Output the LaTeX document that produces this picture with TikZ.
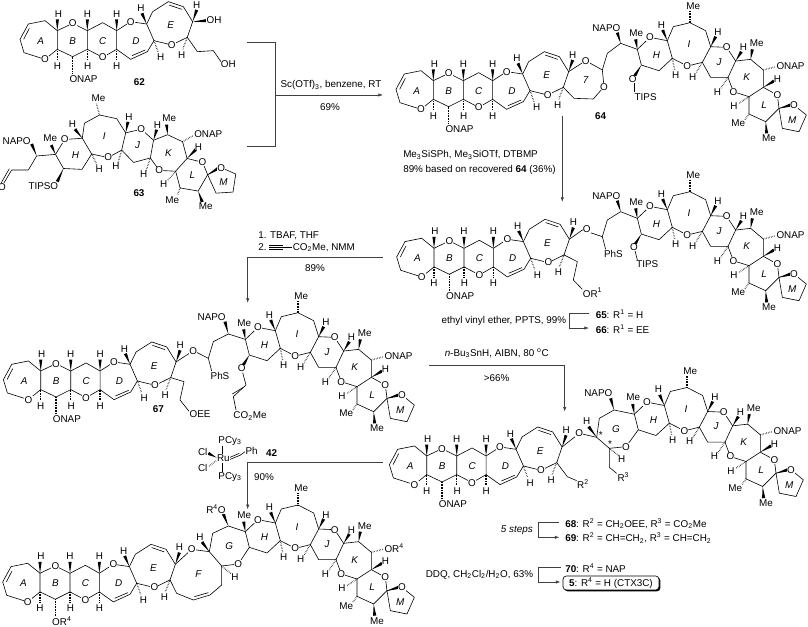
\documentclass[tikz,border=0pt]{standalone}
\usepackage{fontspec}
\setmainfont{Liberation Sans}
\usetikzlibrary{calc,arrows.meta,shadows}

\newcommand{\chemfont}{\fontsize{7.4}{8.5}\selectfont}
\newcommand{\sub}[1]{\textsubscript{#1}}
\newcommand{\supr}[1]{\textsuperscript{#1}}
\newcommand{\wdg}[2]{\fill #1 -- ($#2!1.2pt!90:#1$) -- ($#2!1.2pt!-90:#1$) -- cycle;}

\tikzset{
    zm/.style={x=.25pt,y=-.25pt},
    bnd/.style={line width=.45pt,line join=round},
    hsh/.style={line width=1pt,dash pattern=on .3pt off .9pt},
    atm/.style={font=\chemfont,fill=white,inner sep=.2pt},
    rng/.style={font=\chemfont\itshape,inner sep=0pt},
    txt/.style={font=\chemfont,inner sep=0pt},
    rxn/.style={line width=.5pt,draw=black!75,-{Latex[length=3.5pt,width=2.5pt]}},
    brk/.style={line width=.5pt,draw=black!75}
}

% rings A to E, in the coordinates of 62
\newcommand{\ringsAE}[3]{
  \begin{scope}[shift={(#1,#2)},zm]
    \coordinate (e1) at (578,65);
    \coordinate (e2) at (562,112);
    \draw[bnd] (172,92) -- (135,62) -- (85,72) -- (60,118) -- (72,158) -- (135,178) -- (172,148) -- cycle;
    \draw[bnd] (88,85) -- (71,118);
    \draw[bnd] (172,92) -- (218,70) -- (262,92) -- (262,148) -- (218,170) -- (172,148);
    \draw[bnd] (262,92) -- (308,68) -- (350,92) -- (350,148) -- (308,172) -- (262,148);
    \draw[bnd] (350,92) -- (392,65) -- (440,72) -- (462,122) -- (442,155) -- (392,178) -- (350,148);
    \draw[bnd] (396,167) -- (436,150);
    \draw[bnd] (440,72) -- (458,35) -- (505,5) -- (550,20) -- (578,65) -- (562,112) -- (515,135) -- (462,122);
    \draw[bnd] (507,15) -- (545,28);
    \wdg{(172,92)}{(172,58)} \wdg{(262,92)}{(262,58)} \wdg{(350,92)}{(350,58)}
    \wdg{(440,72)}{(426,40)} \wdg{(e1)}{(590,30)}
    \draw[hsh] (172,148) -- (172,180);
    \draw[hsh] (262,148) -- (262,180);
    \draw[hsh] (350,148) -- (350,180);
    \draw[hsh] (218,170) -- (218,222);
    \draw[hsh] (462,122) -- (474,155);
    \draw[hsh] (e2) -- (548,148);
    \foreach \px/\py in {135/178,218/70,308/172,392/65,515/135}
      \node[atm] at (\px,\py) {O};
    \foreach \px/\py in {175/42,262/42,350/42,423/25,590/15,172/197,263/197,350/197,482/172,545/165}
      \node[atm] at (\px,\py) {H};
    \node[atm,anchor=west] at (207,237) {#3};
    \node[rng] at (122,122) {A};
    \node[rng] at (218,122) {B};
    \node[rng] at (308,122) {C};
    \node[rng] at (408,122) {D};
    \node[rng] at (512,76) {E};
  \end{scope}
}

% rings H to M, in the coordinates of 64, turned about the top of ring I
\newcommand{\ringsHM}[4]{
  \begin{scope}[shift={(#1,#2)},rotate=#3,zm]
  \begin{scope}[shift={(-858,-68)}]
    \coordinate (h1) at (700,148);
    \coordinate (h6) at (712,195);
    \draw[bnd] (h1) -- (738,112) -- (790,122) -- (805,175) -- (765,212) -- (h6) -- cycle;
    \draw[bnd] (790,122) -- (808,80) -- (858,68) -- (905,92) -- (920,140) -- (895,187) -- (850,198) -- (805,175);
    \draw[bnd] (920,140) -- (968,142) -- (995,183) -- (972,232) -- (920,232) -- (895,187);
    \draw[bnd] (995,183) -- (1040,178) -- (1078,210) -- (1078,262) -- (1035,290) -- (988,275) -- (972,232);
    \draw[bnd] (1078,262) -- (1120,285) -- (1125,325) -- (1085,365) -- (1035,342) -- (1035,290);
    \draw[bnd] (1125,325) -- (1170,315) -- (1207,345) -- (1185,395) -- (1135,385) -- (1125,325);
    \wdg{(h1)}{(695,118)} \wdg{(790,122)}{(776,90)} \wdg{(920,140)}{(935,110)}
    \wdg{(995,183)}{(1012,155)} \wdg{(1040,178)}{(1045,148)} \wdg{(1078,262)}{(1110,243)}
    \wdg{(1125,325)}{(1160,315)} \wdg{(1085,365)}{(1088,400)}
    \draw[hsh] (858,68) -- (858,30);
    \draw[hsh] (1078,210) -- (1115,200);
    \draw[hsh] (1035,290) -- (1005,310);
    \draw[hsh] (1035,342) -- (1022,360);
    \draw[hsh] (972,232) -- (950,265);
    \draw[hsh] (895,187) -- (875,220);
    \draw[hsh] (805,175) -- (812,210);
    \foreach \px/\py in {738/112,850/198,968/142,988/275,1120/285,1170/315}
      \node[atm] at (\px,\py) {O};
    \foreach \px/\py in {772/74,942/97,1018/142,1120/237,990/318,940/275,866/230,815/225}
      \node[atm] at (\px,\py) {H};
    \foreach \px/\py in {868/18,697/98,1058/130,1003/370,1095/415}
      \node[atm] at (\px,\py) {Me};
    \node[atm,anchor=west] at (1116,198) {#4};
    \node[rng] at (757,165) {H};
    \node[rng] at (855,133) {I};
    \node[rng] at (945,185) {J};
    \node[rng] at (1028,232) {K};
    \node[rng] at (1080,315) {L};
    \node[rng] at (1165,360) {M};
  \end{scope}
  \end{scope}
}

\begin{document}
\begin{tikzpicture}[x=.75pt,y=-.75pt]
    \useasboundingbox (0,0) rectangle (808,627);

    % 62
    \ringsAE{0}{0}{ONAP}
    \begin{scope}[zm]
      \wdg{(e1)}{(620,62)}
      \draw[bnd] (e2) -- (592,155) -- (640,152) -- (665,188);
      \node[atm] at (642,60) {OH};
      \node[atm] at (685,192) {OH};
      \node[txt] (lab62) at (418,245) {\textbf{62}};
    \end{scope}

    % 63
    \ringsHM{99.5}{115}{15}{ONAP}
    \begin{scope}[zm]
      \draw[bnd] (h1) -- (110,468) -- (85,510) -- (35,510) -- (10,552);
      \draw[bnd] (28,506) -- (4,548);
      \wdg{(110,468)}{(95,432)} \wdg{(h6)}{(172,545)}
      \node[atm] at (50,422) {NAPO};
      \node[atm] at (130,557) {TIPSO};
      \node[atm] at (6,560) {O};
      \node[txt] (lab63) at (417,580) {\textbf{63}};
    \end{scope}

    % 62 + 63 to 64
    \coordinate (b1) at (247.3,42.7);
    \coordinate (b2) at (275,42.7);
    \coordinate (b3) at (275,146.7);
    \coordinate (b4) at (247.3,146.7);
    \coordinate (b5) at (275,95);
    \coordinate (b6) at (383,95);
    \draw[brk] (b1) -- (b2) -- (b3) -- (b4);
    \draw[rxn] (b5) -- (b6);
    \node[txt] (sc) at (331,85) {Sc(OTf)\sub{3}, benzene, RT};
    \node[txt] (y69) at (330,107) {69\%};

    % 64
    \ringsAE{376}{50}{ONAP}
    \ringsHM{690}{22.7}{0}{ONAP}
    \begin{scope}[shift={(404,0)},zm]
      \draw[bnd] (e1) -- (545,182) -- (595,210) -- (600,260) -- (568,297) -- (510,295) -- (e2);
      \draw[bnd] (595,210) -- (610,160) -- (650,130) -- (h1);
      \draw[bnd] (692,240) -- (692,275);
      \wdg{(650,130)}{(640,98)} \wdg{(h6)}{(692,228)}
      \node[atm] at (545,182) {O};
      \node[atm] at (600,260) {O};
      \node[atm] at (686,238) {O};
      \node[atm] at (607,84) {NAPO};
      \node[atm] at (725,290) {TIPS};
      \node[rng] at (545,240) {7};
      \node[txt] (lab64) at (590,347) {\textbf{64}};
    \end{scope}

    % 64 to 65
    \coordinate (c1) at (562.3,116);
    \coordinate (c2) at (562.3,202);
    \draw[rxn] (c1) -- (c2);
    \node[txt,anchor=west] (me3) at (403,155) {Me\sub{3}SiSPh, Me\sub{3}SiOTf, DTBMP};
    \node[txt,anchor=west] (y89a) at (403,170) {89\% based on recovered \textbf{64} (36\%)};

    % 65
    \ringsAE{376.7}{217.6}{ONAP}
    \ringsHM{690}{191.7}{0}{ONAP}
    \begin{scope}[shift={(404,210)},zm]
      \draw[bnd] (e1) -- (535,60) -- (595,80) -- (610,30) -- (650,5) -- (h1);
      \draw[bnd] (595,80) -- (605,118);
      \draw[bnd] (e2) -- (520,155) -- (508,210) -- (535,238);
      \draw[bnd] (692,118) -- (700,150);
      \wdg{(650,5)}{(640,-28)} \wdg{(h6)}{(692,105)}
      \node[atm] at (548,58) {O};
      \node[atm] at (690,112) {O};
      \node[atm] at (607,-43) {NAPO};
      \node[atm] at (628,132) {PhS};
      \node[atm] at (730,163) {TIPS};
      \node[atm,anchor=west] at (535,248) {OR\supr{1}};
    \end{scope}

    % 65 to 66
    \coordinate (d1) at (589,313.3);
    \coordinate (d2) at (569,313.3);
    \coordinate (d3) at (569,328);
    \coordinate (d4) at (589,328);
    \draw[rxn] (d1) -- (d2) -- (d3) -- (d4);
    \node[txt,anchor=east] (vinyl) at (566.5,321) {ethyl vinyl ether, PPTS, 99\%};
    \node[txt,anchor=west] (lab65) at (595.5,314.5) {\textbf{65}: R\supr{1} = H};
    \node[txt,anchor=west] (lab66) at (595.5,329) {\textbf{66}: R\supr{1} = EE};

    % 65 to 67
    \coordinate (f1) at (383.3,257.3);
    \coordinate (f2) at (247.7,257.3);
    \coordinate (f3) at (247.7,303);
    \draw[rxn] (f1) -- (f2) -- (f3);
    \node[txt,anchor=west] (tbaf) at (258,236) {1. TBAF, THF};
    \node[txt,anchor=west] (two) at (258,247.5) {2.};
    \draw[bnd] (269,245) -- (283,245) (269,247.3) -- (292,247.3) (269,249.7) -- (283,249.7);
    \node[txt,anchor=west] (cotwo) at (292.5,247.5) {CO\sub{2}Me, NMM};
    \node[txt] (y89b) at (315,268) {89\%};

    % 67
    \ringsAE{-16.6}{340.3}{ONAP}
    \ringsHM{298}{312.7}{0}{ONAP}
    \begin{scope}[shift={(0,210)},zm]
      \draw[bnd] (e1) -- (580,422) -- (625,445) -- (640,395) -- (685,372) -- (h1);
      \draw[bnd] (625,445) -- (635,483);
      \draw[bnd] (e2) -- (552,515) -- (540,570) -- (568,605);
      \draw[bnd] (728,488) -- (738,525) -- (700,560) -- (708,600);
      \draw[bnd] (730,532) -- (697,552);
      \wdg{(685,372)}{(675,335)} \wdg{(h6)}{(730,465)}
      \node[atm] at (580,422) {O};
      \node[atm] at (725,475) {O};
      \node[atm] at (635,320) {NAPO};
      \node[atm] at (660,497) {PhS};
      \node[atm] at (600,613) {OEE};
      \node[atm] at (750,618) {CO\sub{2}Me};
      \node[txt] (lab67) at (475,597) {\textbf{67}};
    \end{scope}

    % 67 to 68
    \coordinate (g1) at (429,365);
    \coordinate (g2) at (564.7,365);
    \coordinate (g3) at (564.7,411.7);
    \draw[rxn] (g1) -- (g2) -- (g3);
    \node[txt] (busn) at (496.7,353.3) {\itshape n\upshape-Bu\sub{3}SnH, AIBN, 80 \supr{o}C};
    \node[txt] (y66) at (496.7,378) {>66\%};

    % 68
    \ringsAE{369.4}{425.3}{ONAP}
    \ringsHM{687}{387.5}{0}{ONAP}
    \begin{scope}[shift={(540,380)},zm]
      \draw[bnd] (e1) -- (118,160) -- (170,172) -- (178,115) -- (222,90) -- (h1);
      \draw[bnd] (h6) -- (258,200) -- (208,205) -- (170,172);
      \draw[bnd] (208,205) -- (208,262) -- (230,280);
      \draw[hsh] (208,205) -- (238,228);
      \wdg{(222,90)}{(212,55)} \wdg{(170,172)}{(146,140)}
      \node[atm] at (118,160) {O};
      \node[atm] at (258,200) {O};
      \node[atm] at (140,122) {H};
      \node[atm] at (245,238) {H};
      \node[atm] at (175,40) {NAPO};
      \node[atm] at (250,292) {R\supr{3}};
      \node[rng] at (228,148) {G};
      \node[txt] at (182,164) {*};
      \node[txt] at (210,193) {*};
    \end{scope}
    \begin{scope}[shift={(404,420)},zm]
      \draw[bnd] (e2) -- (490,170) -- (518,182);
      \node[atm] at (537,192) {R\supr{2}};
    \end{scope}

    % 68 to 69
    \coordinate (j1) at (559,522.7);
    \coordinate (j2) at (538,522.7);
    \coordinate (j3) at (538,537.3);
    \coordinate (j4) at (559.5,537.3);
    \draw[rxn] (j1) -- (j2) -- (j3) -- (j4);
    \node[txt,anchor=east] (steps) at (533,530) {\itshape 5 steps};
    \node[txt,anchor=west] (lab68) at (565,523.5) {\textbf{68}: R\supr{2} = CH\sub{2}OEE, R\supr{3} = CO\sub{2}Me};
    \node[txt,anchor=west] (lab69) at (565,538) {\textbf{69}: R\supr{2} = CH=CH\sub{2}, R\supr{3} = CH=CH\sub{2}};

    % 69 to 70
    \coordinate (k1) at (382.7,462.7);
    \coordinate (k2) at (247.7,462.7);
    \coordinate (k3) at (247.7,509.3);
    \draw[rxn] (k1) -- (k2) -- (k3);
    \node[txt] (y90) at (264,476.7) {90\%};
    \begin{scope}[shift={(190,425)},zm]
      \draw[bnd] (97,62) -- (97,88) (97,113) -- (97,140);
      \draw[bnd] (118,104) -- (150,91) -- (168,78) (120,97) -- (148,85);
      \wdg{(80,98)}{(55,85)}
      \draw[hsh] (78,108) -- (55,125);
      \node[atm] at (120,47) {PCy\sub{3}};
      \node[atm] at (100,100) {Ru};
      \node[atm] at (38,80) {Cl};
      \node[atm] at (38,128) {Cl};
      \node[atm] at (120,155) {PCy\sub{3}};
      \node[atm] at (185,78) {Ph};
      \node[txt] (lab42) at (245,85) {\textbf{42}};
    \end{scope}

    % 70
    \ringsAE{-17.3}{542.6}{OR\supr{4}}
    \ringsHM{298}{505}{0}{OR\supr{4}}
    \begin{scope}[shift={(140,480)},zm]
      \draw[bnd] (e1) -- (155,208) -- (208,215) -- (218,160) -- (265,138) -- (h1);
      \draw[bnd] (h6) -- (295,252) -- (245,258) -- (208,215);
      \draw[bnd] (e2) -- (110,340) -- (160,360) -- (210,345) -- (245,315) -- (245,258);
      \draw[bnd] (163,350) -- (205,338);
      \draw[hsh] (245,258) -- (272,280);
      \wdg{(265,138)}{(250,102)} \wdg{(208,215)}{(186,186)}
      \node[atm] at (155,208) {O};
      \node[atm] at (295,252) {O};
      \node[atm] at (180,172) {H};
      \node[atm] at (285,290) {H};
      \node[atm] at (228,88) {R\supr{4}O};
      \node[rng] at (175,283) {F};
      \node[rng] at (268,198) {G};
    \end{scope}

    % 70 to 5
    \coordinate (m1) at (560.7,567);
    \coordinate (m2) at (538,567);
    \coordinate (m3) at (538,582);
    \coordinate (m4) at (560.5,582);
    \draw[rxn] (m1) -- (m2) -- (m3) -- (m4);
    \node[txt,anchor=east] (ddq) at (533.3,574.5) {DDQ, CH\sub{2}Cl\sub{2}/H\sub{2}O, 63\%};
    \node[txt,anchor=west] (lab70) at (565,568.5) {\textbf{70}: R\supr{4} = NAP};
    \node[font=\chemfont,draw,line width=.5pt,rounded corners=2.5pt,fill=white,inner sep=0pt,
      minimum width=72pt,minimum height=10.5pt,
      drop shadow={shadow xshift=1pt,shadow yshift=-1pt,fill=black,opacity=1}] (lab5) at (611,583)
      {\textbf{5}: R\supr{4} = H (CTX3C)};
\end{tikzpicture}
\end{document}
